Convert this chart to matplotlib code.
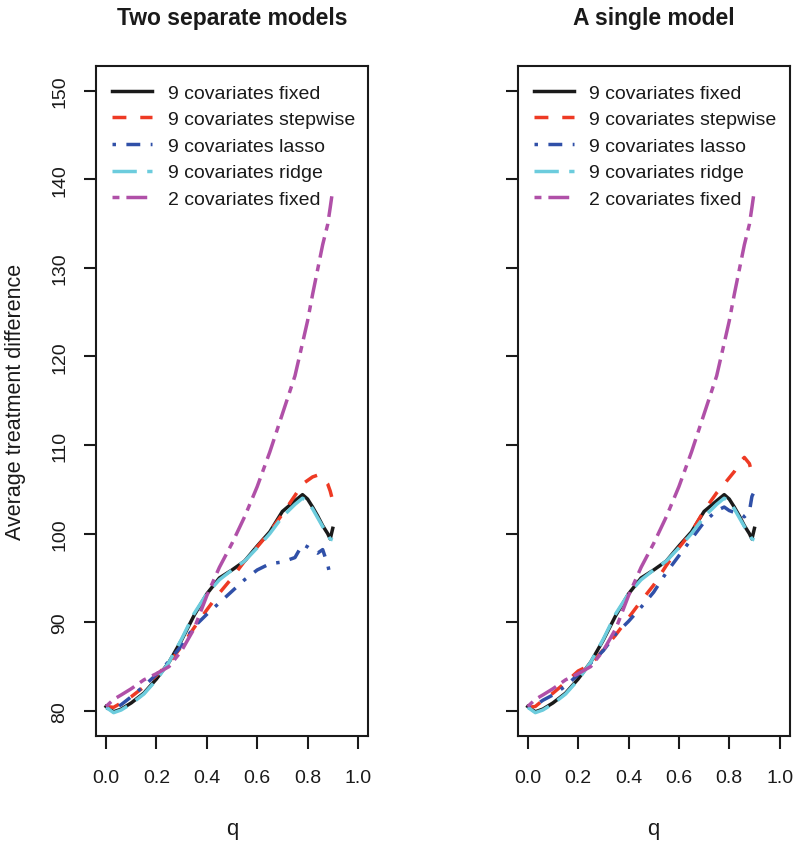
import matplotlib
matplotlib.use("Agg")
import matplotlib.pyplot as plt

plt.rcParams["font.family"] = ["Liberation Sans", "DejaVu Sans"]

# --- Data (q on x, average treatment difference on y)
q = [0.0, 0.03, 0.06, 0.1, 0.15, 0.2, 0.25, 0.3, 0.35, 0.4, 0.45, 0.5, 0.55,
     0.6, 0.65, 0.7, 0.75, 0.78, 0.8, 0.82, 0.84, 0.86, 0.88, 0.89, 0.9]

fixed9 = [80.5, 79.9, 80.2, 80.9, 82.0, 83.6, 85.5, 88.0, 90.8, 93.2, 95.0, 95.9, 96.9,
          98.6, 100.2, 102.5, 103.7, 104.4, 103.9, 103.0, 102.0, 100.9, 100.0, 99.4, 100.6]
ridge9 = [80.4, 79.8, 80.1, 80.8, 81.9, 83.5, 85.5, 88.1, 91.0, 93.2, 94.8, 95.9, 96.9,
          98.4, 100.0, 101.9, 103.3, 104.0, 103.6, 102.8, 101.8, 100.8, 99.9, 99.4, 99.3]
fixed2 = [80.5, 81.3, 81.8, 82.5, 83.5, 84.2, 85.0, 86.8, 89.3, 93.0, 96.2, 98.9, 101.9,
          105.3, 109.2, 113.5, 117.8, 121.5, 124.0, 127.0, 129.8, 132.6, 134.9, 136.8, 138.8]

# two separate models
step_sep = [80.5, 80.4, 80.9, 81.6, 82.7, 84.0, 85.4, 87.3, 89.4, 91.4, 93.3, 95.0, 96.9,
            98.5, 100.2, 102.2, 104.3, 105.6, 106.0, 106.4, 106.6, 106.3, 105.6, 104.8, 103.7]
lasso_sep = [80.3, 80.2, 80.7, 81.6, 82.8, 84.1, 85.6, 87.4, 89.5, 90.9, 92.2, 93.5, 94.8,
             95.9, 96.6, 96.8, 97.3, 98.8, 98.5, 98.1, 97.8, 98.2, 96.5, 95.2, 94.9]

# a single model
step_single = [80.4, 80.5, 81.2, 82.0, 83.2, 84.5, 85.2, 86.9, 88.6, 90.5, 92.4, 94.2, 96.4,
               98.4, 100.2, 102.6, 104.6, 105.6, 106.3, 107.0, 108.0, 108.6, 107.9, 106.8, 106.3]
lasso_single = [80.3, 80.6, 81.2, 81.8, 82.8, 84.1, 85.4, 86.8, 88.7, 90.1, 91.7, 93.4, 95.6,
                97.5, 99.4, 101.3, 102.6, 103.0, 102.6, 102.4, 102.3, 101.9, 102.5, 104.2, 104.8]

labels = ["9 covariates fixed", "9 covariates stepwise", "9 covariates lasso",
          "9 covariates ridge", "2 covariates fixed"]
titles = ["Two separate models", "A single model"]
colors = ["#1a1a1a", "#ee3a24", "#3050a8", "#6cccdd", "#b050a8"]
# R line types: solid, dashed, dotdash, longdash, twodash
styles = ["-", (0, (4, 4)), (0, (1, 3, 4, 3)), (0, (7, 3)), (0, (2, 2, 6, 2))]

panels = [
    [fixed9, step_sep, lasso_sep, ridge9, fixed2],
    [fixed9, step_single, lasso_single, ridge9, fixed2],
]

fig = plt.figure(figsize=(8, 8.45), dpi=100)
lefts = [96 / 800, 517.7 / 800]

for i, series in enumerate(panels):
    ax = fig.add_axes([lefts[i], 108.3 / 845, 272 / 800, 670 / 845])
    for vals, col, ls, lab in zip(series, colors, styles, labels):
        ax.plot(q, vals, color=col, linestyle=ls, linewidth=2.5, label=lab)

    ax.set_xlim(-0.04, 1.04)
    ax.set_ylim(77.2, 152.8)
    ax.set_xticks([0.0, 0.2, 0.4, 0.6, 0.8, 1.0])
    ax.set_xticklabels(["0.0", "0.2", "0.4", "0.6", "0.8", "1.0"], fontsize=14)
    ax.set_yticks(range(80, 151, 10))
    if i == 0:
        ax.set_yticklabels([str(v) for v in range(80, 151, 10)], rotation=90,
                           va="center", fontsize=14)
    else:
        ax.set_yticklabels([])
    ax.tick_params(axis="both", length=9, width=1.5, color="#1a1a1a",
                   labelcolor="#1a1a1a")
    ax.tick_params(axis="x", pad=15)
    ax.tick_params(axis="y", pad=11)
    for sp in ax.spines.values():
        sp.set_linewidth(1.5)
        sp.set_color("#1a1a1a")

    leg = ax.legend(loc="upper left", bbox_to_anchor=(0.059, 0.9725), frameon=False,
                    fontsize=14, borderpad=0, handlelength=2.06, handletextpad=0.8,
                    labelspacing=0.46, borderaxespad=0)
    for t in leg.get_texts():
        t.set_color("#1a1a1a")

    cx = lefts[i] + 136 / 800
    fig.text(cx, 1 - 18 / 845, titles[i], ha="center", va="center", fontsize=16.5,
             fontweight="bold", color="#1a1a1a")
    fig.text(cx, 1 - 830 / 845, "q", ha="center", va="center", fontsize=16, color="#1a1a1a")

fig.text(16 / 800, 1 - 401.7 / 845, "Average treatment difference", rotation=90,
         ha="center", va="center", fontsize=15.5, color="#1a1a1a")

fig.savefig("out.png", dpi=100)
